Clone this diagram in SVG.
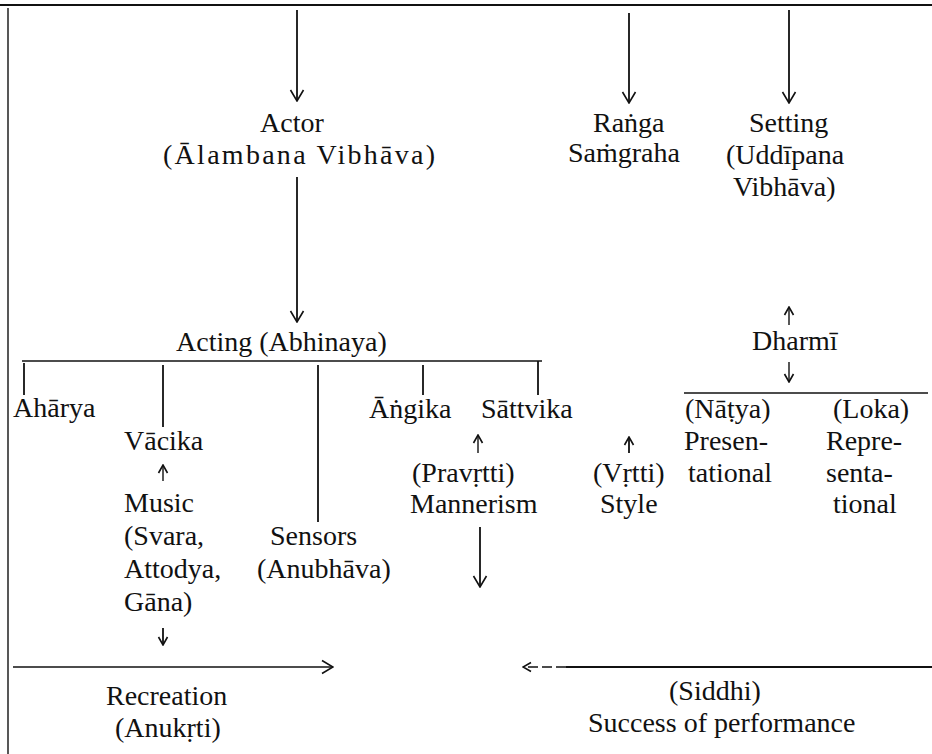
<svg xmlns="http://www.w3.org/2000/svg" width="932" height="754" viewBox="0 0 932 754">
<style>
text{font-family:"Liberation Serif","DejaVu Serif",serif;font-size:28px;fill:#111;}
.ln{stroke:#111;stroke-width:1.8;fill:none;}
.thin{stroke:#111;stroke-width:1.4;fill:none;}
</style>
<defs>
<marker id="ah" markerUnits="userSpaceOnUse" viewBox="-1 -8 13 16" markerWidth="13" markerHeight="16" refX="11" refY="0" orient="auto">
<path d="M0,-6.5 L11,0 L0,6.5" fill="none" stroke="#111" stroke-width="1.6"/>
</marker>
<marker id="as" markerUnits="userSpaceOnUse" viewBox="-1 -6 10 12" markerWidth="10" markerHeight="12" refX="8" refY="0" orient="auto">
<path d="M0,-4.5 L8,0 L0,4.5" fill="none" stroke="#111" stroke-width="1.6"/>
</marker>
</defs>
<rect width="932" height="754" fill="#fff"/>
<g id="connectors">
<path class="ln" d="M0,5 H932"/>
<path class="thin" d="M8,8 V754"/>
<path class="ln" d="M297,10 V101" marker-end="url(#ah)"/>
<path class="ln" d="M629,13 V103" marker-end="url(#ah)"/>
<path class="ln" d="M789,10 V103" marker-end="url(#ah)"/>
<path class="ln" d="M297,177 V322" marker-end="url(#ah)"/>
<path class="thin" d="M22,361 H542"/>
<path class="ln" d="M24,363 V395"/>
<path class="ln" d="M163,365 V427"/>
<path class="ln" d="M318,365 V522"/>
<path class="ln" d="M423,365 V395"/>
<path class="ln" d="M538,361 V395"/>
<path class="thin" d="M163,481 V465" marker-end="url(#as)"/>
<path class="thin" d="M478,453 V435" marker-end="url(#as)"/>
<path class="ln" d="M629,453 V437" marker-end="url(#as)"/>
<path class="thin" d="M789,325 V307" marker-end="url(#as)"/>
<path class="thin" d="M789,362 V382" marker-end="url(#as)"/>
<path class="thin" d="M684,393 H928"/>
<path class="ln" d="M480,527 V587" marker-end="url(#ah)"/>
<path class="ln" d="M163,628 V645" marker-end="url(#as)"/>
<path class="thin" d="M13,667 H333" marker-end="url(#ah)"/>
<path class="ln" d="M932,667 H566"/>
<path class="thin" d="M566,667 H523" stroke-dasharray="10,4" marker-end="url(#as)"/>
</g>
<g id="actor"><text x="260" y="132">Actor</text><text x="163" y="164" textLength="272" lengthAdjust="spacing">(Ālambana Vibhāva)</text></g>
<g id="ranga"><text x="593" y="132">Raṅga</text><text x="568" y="162">Saṁgraha</text></g>
<g id="setting"><text x="749" y="132">Setting</text><text x="726" y="164">(Uddīpana</text><text x="733" y="196">Vibhāva)</text></g>
<g id="acting"><text x="176" y="351">Acting (Abhinaya)</text></g>
<g id="dharmi"><text x="752" y="350">Dharmī</text></g>
<g id="aharya"><text x="13" y="417">Ahārya</text></g>
<g id="angika"><text x="369" y="418">Āṅgika</text></g>
<g id="sattvika"><text x="481" y="418">Sāttvika</text></g>
<g id="natya"><text x="685" y="418">(Nāṭya)</text><text x="684" y="450">Presen-</text><text x="688" y="482">tational</text></g>
<g id="loka"><text x="833" y="418">(Loka)</text><text x="826" y="450">Repre-</text><text x="826" y="482">senta-</text><text x="833" y="513">tional</text></g>
<g id="vacika"><text x="124" y="450">Vācika</text></g>
<g id="pravrtti"><text x="412" y="482">(Pravṛtti)</text><text x="410" y="513">Mannerism</text></g>
<g id="vrtti"><text x="593" y="482">(Vṛtti)</text><text x="600" y="513">Style</text></g>
<g id="music"><text x="124" y="512">Music</text><text x="124" y="545">(Svara,</text><text x="124" y="578">Attodya,</text><text x="124" y="611">Gāna)</text></g>
<g id="sensors"><text x="270" y="545">Sensors</text><text x="257" y="578">(Anubhāva)</text></g>
<g id="recreation"><text x="106" y="705">Recreation</text><text x="115" y="737">(Anukṛti)</text></g>
<g id="siddhi"><text x="669" y="700">(Siddhi)</text><text x="588" y="732">Success of performance</text></g>
</svg>
